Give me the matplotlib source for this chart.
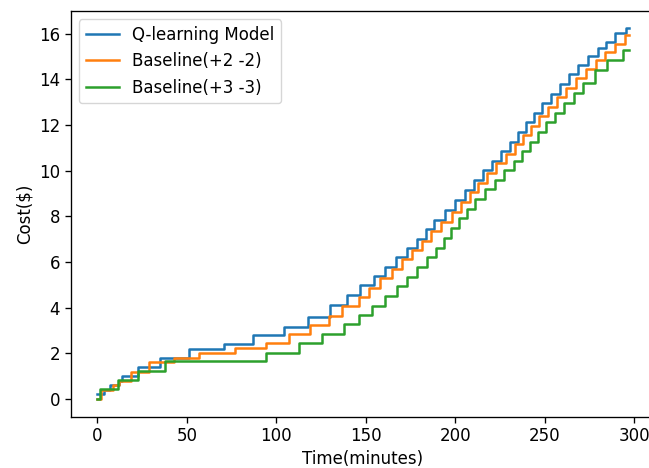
import matplotlib
matplotlib.use("Agg")
import matplotlib.pyplot as plt

# step change points: (minute, cumulative cost)
q_t = [0, 4, 7, 12, 14, 23, 35, 51, 71, 87, 104.5, 117.5, 130, 139.5, 147, 154.5,
       160.5, 167, 173, 178.5, 183.5, 188, 194.5, 200, 205.5, 210.5, 215.5, 220.5,
       225.5, 230.5, 235, 239.5, 244, 248.5, 253.5, 258.5, 263.5, 268.5, 274,
       279.5, 284, 289, 295.5, 297]
q_cost = [0.2, 0.4, 0.6, 0.8, 1.0, 1.4, 1.8, 2.2, 2.4, 2.8, 3.17, 3.6, 4.12, 4.56,
          4.97, 5.39, 5.8, 6.21, 6.61, 7.02, 7.44, 7.85, 8.29, 8.73, 9.17, 9.6,
          10.02, 10.44, 10.86, 11.28, 11.7, 12.12, 12.54, 12.96, 13.38, 13.8,
          14.22, 14.62, 15.02, 15.4, 15.63, 16.04, 16.25, 16.25]

b2_t = [0, 2, 9, 12, 19, 29, 43, 57, 77, 94, 107, 119, 129.5, 137, 146, 152, 158,
        164.5, 170.5, 176, 181.5, 186.5, 192, 198, 203.5, 208.5, 213, 218, 223,
        228.5, 233.5, 238, 242.5, 247, 252, 257, 262, 267.5, 273, 278.5, 283.5,
        289.5, 295, 297]
b2_cost = [0, 0.4, 0.6, 0.8, 1.2, 1.6, 1.8, 2.03, 2.25, 2.45, 2.85, 3.25, 3.65,
           4.05, 4.46, 4.88, 5.3, 5.7, 6.12, 6.52, 6.93, 7.35, 7.76, 8.2, 8.62,
           9.05, 9.47, 9.9, 10.32, 10.75, 11.15, 11.57, 11.98, 12.4, 12.8, 13.22,
           13.64, 14.05, 14.45, 14.85, 15.2, 15.57, 15.93, 15.93]

b3_t = [0, 1.4, 11.6, 22.7, 37.6, 94.2, 112.8, 125.8, 137.9, 146.2, 153.6, 161,
        167.6, 173.2, 178.5, 184, 189.5, 193.5, 197.5, 202, 206.5, 211, 216.5,
        222, 227.5, 233, 237.5, 242, 246.5, 251, 256, 261, 266.5, 271.5, 278,
        285, 294, 297]
b3_cost = [0, 0.42, 0.83, 1.23, 1.64, 2.03, 2.44, 2.85, 3.27, 3.68, 4.07, 4.49,
           4.93, 5.36, 5.78, 6.2, 6.62, 7.05, 7.5, 7.92, 8.34, 8.76, 9.18, 9.6,
           10.02, 10.44, 10.86, 11.28, 11.7, 12.12, 12.55, 12.98, 13.42, 13.85,
           14.43, 14.87, 15.28, 15.28]

# the original was drawn a bit larger than the default, scale text and lines up
plt.rcParams["font.size"] = 12
plt.rcParams["lines.linewidth"] = 1.8
plt.rcParams["axes.linewidth"] = 0.96
plt.rcParams["xtick.major.size"] = 4.2
plt.rcParams["ytick.major.size"] = 4.2
plt.rcParams["xtick.major.width"] = 0.96
plt.rcParams["ytick.major.width"] = 0.96

fig = plt.figure(figsize=(6.49, 4.68), dpi=100)
ax = fig.add_axes([70.7 / 649, 51.3 / 468, 584.7 / 649, 405.7 / 468])

ax.plot(q_t, q_cost, drawstyle="steps-post", label="Q-learning Model")
ax.plot(b2_t, b2_cost, drawstyle="steps-post", label="Baseline(+2 -2)")
ax.plot(b3_t, b3_cost, drawstyle="steps-post", label="Baseline(+3 -3)")

ax.set_xlim(-14.85, 311.85)
ax.set_ylim(-0.78, 17.0)
ax.set_xticks([0, 50, 100, 150, 200, 250, 300])
ax.set_yticks([0, 2, 4, 6, 8, 10, 12, 14, 16])
ax.set_xlabel("Time(minutes)", labelpad=3)
ax.set_ylabel("Cost($)")
ax.legend(loc="upper left")

fig.savefig("out.png", dpi=100)
